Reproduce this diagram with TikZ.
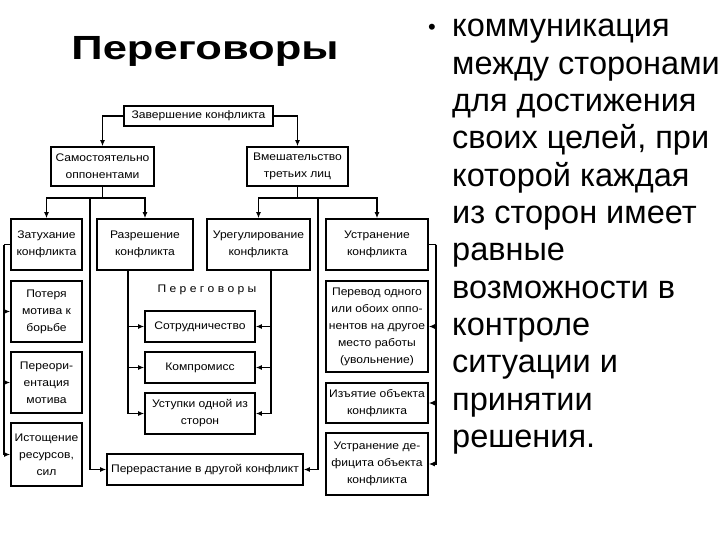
\documentclass[tikz,border=0pt]{standalone}
\usepackage{fontspec}
\setmainfont{Liberation Sans}
\newfontfamily\boxfont[FakeStretch=1.1]{Liberation Sans}
\newfontfamily\titlefont[FakeStretch=1.3]{Liberation Sans Bold}
\usetikzlibrary{arrows.meta}

\tikzset{
  box/.style={rectangle, draw, line width=1.6pt, align=center, inner sep=1pt,
              font=\boxfont\fontsize{11}{17}\selectfont},
  link/.style={line width=1.5pt},
  arr/.style={link, -{Latex[length=6pt,width=5pt]}},
}

\begin{document}
\begin{tikzpicture}[x=1pt,y=-1pt]
\useasboundingbox (0,0) rectangle (720,540);

  % title and bullet text
  \node[font=\titlefont\fontsize{33.5}{36}\selectfont, anchor=base] (title) at (205,60) {Переговоры};
  \node[font=\fontsize{22}{22}\selectfont] (dot) at (432,29) {•};
  \foreach \t [count=\i from 0] in {коммуникация, между сторонами, для достижения,
      {своих целей, при}, которой каждая, из сторон имеет, равные, возможности в,
      контроле, ситуации и, принятии, решения.}
    \node[anchor=base west, inner sep=0, font=\fontsize{32.5}{37}\selectfont]
         (line\i) at (452,37+37.3*\i) {\t};

  % upper levels
  \node[box, minimum width=149pt, minimum height=20pt] (finish) at (198.5,116) {Завершение конфликта};
  \node[box, minimum width=103pt, minimum height=39pt] (self) at (102.5,166.5) {Самостоятельно\\оппонентами};
  \node[box, minimum width=101pt, minimum height=39pt] (third) at (297.5,166.5) {Вмешательство\\третьих лиц};

  \node[box, minimum width=71pt, minimum height=51pt] (fade) at (46.5,244.5) {Затухание\\конфликта};
  \node[box, minimum width=96pt, minimum height=51pt] (resolve) at (145,244.5) {Разрешение\\конфликта};
  \node[box, minimum width=103pt, minimum height=51pt] (settle) at (258.5,244.5) {Урегулирование\\конфликта};
  \node[box, minimum width=102pt, minimum height=51pt] (remove) at (377,244.5) {Устранение\\конфликта};

  % left column
  \node[box, minimum width=71pt, minimum height=61pt] (motive) at (46.5,311.5) {Потеря\\мотива к\\борьбе};
  \node[box, minimum width=71pt, minimum height=61pt] (reorient) at (46.5,382.5) {Переори-\\ентация\\мотива};
  \node[box, minimum width=71pt, minimum height=63pt] (exhaust) at (46.5,454.5) {Истощение\\ресурсов,\\сил};

  % negotiations
  \node[font=\boxfont\fontsize{11}{17}\selectfont] (talks) at (207,290) {П е р е г о в о р ы};
  \node[box, minimum width=110pt, minimum height=31pt] (coop) at (200,326.5) {Сотрудничество};
  \node[box, minimum width=110pt, minimum height=31pt] (compromise) at (200,367.5) {Компромисс};
  \node[box, minimum width=110pt, minimum height=41pt] (concede) at (200,413.5) {Уступки одной из\\сторон};
  \node[box, minimum width=196pt, minimum height=31pt] (grow) at (205,469.5) {Перерастание в другой конфликт};

  % right column
  \node[box, minimum width=102pt, minimum height=91pt] (transfer) at (377,326.5)
       {Перевод одного\\или обоих оппо-\\нентов на другое\\место работы\\(увольнение)};
  \node[box, minimum width=102pt, minimum height=40pt] (seize) at (377,403) {Изъятие объекта\\конфликта};
  \node[box, minimum width=102pt, minimum height=62pt] (deficit) at (377,464) {Устранение де-\\фицита объекта\\конфликта};

  % connectors
  \draw[arr] (finish.west) -| (self.north);
  \draw[arr] (finish.east) -| (third.north);

  \coordinate (selfj) at (102.5,198);
  \draw[link] (self.south) -- (selfj);
  \draw[arr] (selfj) -| (fade.north);
  \draw[arr] (selfj) -| (resolve.north);
  \coordinate (leftbus) at (90,198);
  \draw[arr] (leftbus) |- (grow.west);

  \coordinate (thirdj) at (297.5,198);
  \draw[link] (third.south) -- (thirdj);
  \draw[arr] (thirdj) -| (settle.north);
  \draw[arr] (thirdj) -| (remove.north);
  \coordinate (rightbus) at (318,198);
  \draw[arr] (rightbus) |- (grow.east);

  \coordinate (fadebus) at (4,244.5);
  \draw[link] (fade.west) -- (fadebus);
  \foreach \n in {motive, reorient, exhaust}
    \draw[arr] (fadebus) |- (\n.west);

  \foreach \n in {coop, compromise, concede} {
    \draw[arr] ([xshift=-17pt]resolve.south) |- (\n.west);
    \draw[arr] ([xshift=12.5pt]settle.south) |- (\n.east);
  }

  \coordinate (removebus) at (436,244.5);
  \draw[link] (remove.east) -- (removebus);
  \foreach \n in {transfer, seize, deficit}
    \draw[arr] (removebus) |- (\n.east);

\end{tikzpicture}
\end{document}
